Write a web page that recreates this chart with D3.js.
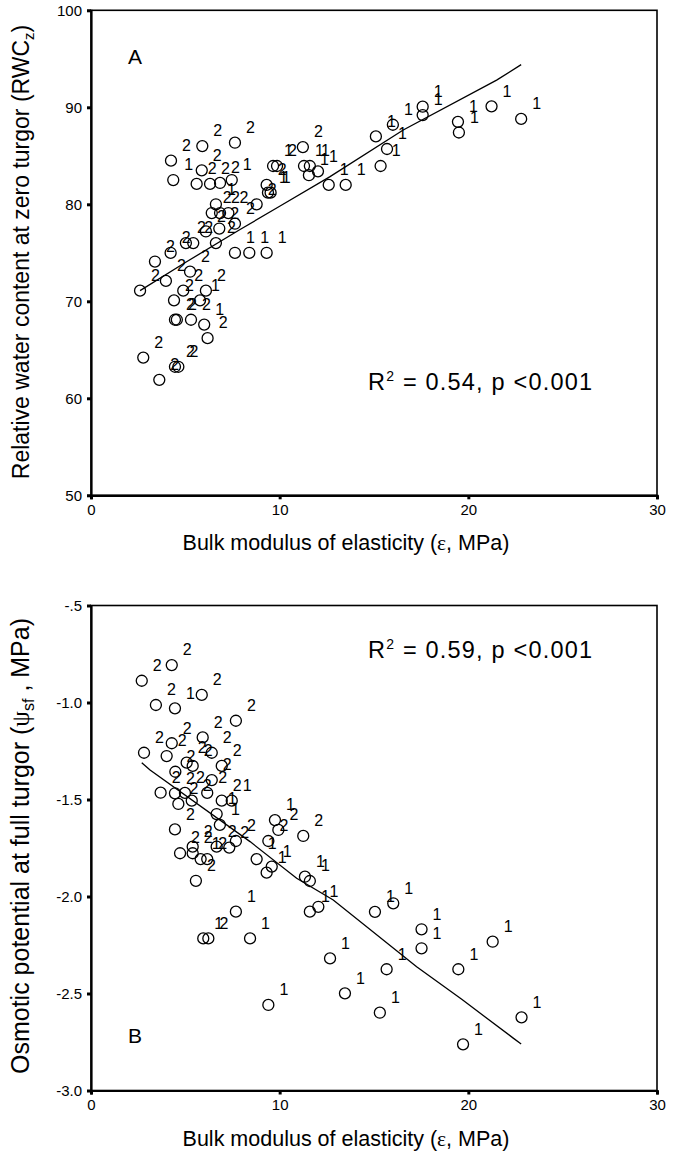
<!DOCTYPE html>
<html><head><meta charset="utf-8">
<script src="https://cdn.jsdelivr.net/npm/d3@7/dist/d3.min.js"></script>
<style>body{margin:0;background:#fff}svg{display:block}</style>
</head><body>
<script>
// ---------- data ----------
const xTicks = [0, 10, 20, 30];
const yTicksA = [50, 60, 70, 80, 90, 100];
const yTicksB = [-3.0, -2.5, -2.0, -1.5, -1.0, -0.5];
const yTickLabelsB = ["-3.0", "-2.5", "-2.0", "-1.5", "-1.0", "-.5"];

// Panel A: bulk modulus vs RWC at zero turgor
const xA = [2.6,3.39,3.97,4.22,5.03,5.42,6.62,5.25,4.89,6.09,4.4,5.78,4.45,4.55,5.3,6.0,6.18,2.77,4.45,4.63,3.62,
  7.63,8.39,9.31,6.09,6.8,7.63,6.4,6.84,7.28,6.62,8.78,4.24,5.9,7.63,4.36,5.87,5.6,6.31,6.84,7.46,9.31,9.38,9.52,
  9.65,9.86,11.23,11.29,11.6,11.55,12.03,12.6,13.5,15.1,15.35,15.69,16.0,17.58,17.58,19.45,19.5,21.23,22.8];
const yA = [71.1,74.1,72.1,75.0,76.0,76.0,76.0,73.05,71.1,71.1,70.1,70.1,68.1,68.1,68.1,67.6,66.2,64.2,63.25,63.25,61.9,
  75.0,75.0,75.0,77.2,77.5,78.0,79.1,79.1,79.1,80.0,80.0,84.5,86.0,86.35,82.5,83.5,82.1,82.1,82.2,82.5,82.0,81.2,81.2,
  83.95,83.95,85.9,83.95,83.95,83.0,83.4,82.0,82.0,87.0,83.95,85.7,88.2,90.06,89.2,88.5,87.4,90.1,88.8];
const grpA = [2,2,2,2,2,2,2,2,2,2,2,1,2,2,2,1,2,2,2,2,2,
  1,1,1,2,2,2,2,2,2,1,2,2,2,2,1,2,2,2,2,1,2,1,1,
  1,2,2,1,1,1,1,1,1,1,1,1,1,1,1,1,1,1,1];
const fitAx = [2.6, 5.0, 7.9, 10.0, 12.67, 16.55, 21.5, 22.8];
const fitAy = [71.1, 74.0, 77.4, 79.8, 82.85, 87.66, 92.8, 94.4];

// Panel B: bulk modulus vs osmotic potential at full turgor
const xB = [2.69,4.28,5.87,3.44,4.45,7.68,2.81,4.01,4.28,5.92,6.4,5.07,5.39,6.93,4.47,6.4,3.69,4.45,4.98,6.16,
  4.63,5.34,6.93,7.46,6.66,6.83,4.45,7.68,5.39,4.72,5.39,6.66,7.33,5.81,6.16,5.56,8.78,9.31,9.58,9.4,
  9.75,9.93,11.25,11.34,11.6,11.6,12.05,7.68,5.95,6.22,8.43,15.05,16.02,17.52,17.52,21.29,19.47,15.67,
  12.67,13.46,9.4,15.31,22.82,19.72];
const yB = [-0.888,-0.807,-0.961,-1.013,-1.03,-1.094,-1.259,-1.276,-1.21,-1.18,-1.259,-1.31,-1.327,-1.327,-1.357,-1.4,
  -1.465,-1.468,-1.466,-1.466,-1.523,-1.506,-1.506,-1.506,-1.575,-1.631,-1.654,-1.714,-1.743,-1.777,-1.777,-1.743,
  -1.748,-1.807,-1.807,-1.919,-1.807,-1.877,-1.846,-1.714,-1.606,-1.657,-1.688,-1.898,-1.92,-2.078,-2.053,-2.078,
  -2.216,-2.216,-2.216,-2.079,-2.035,-2.169,-2.267,-2.233,-2.375,-2.375,-2.319,-2.499,-2.559,-2.599,-2.623,-2.762];
const grpB = [2,2,2,2,1,2,2,2,2,2,2,2,2,2,2,2,2,2,2,2,
  2,2,2,1,1,1,2,2,2,2,2,2,2,1,2,2,1,1,1,2,
  1,2,2,1,1,1,1,1,1,2,1,1,1,1,1,1,1,1,
  1,1,1,1,1,1];
const fitBx = [2.69, 3.13, 8.43, 10.9, 12.84, 17.26, 19.65, 22.38, 22.8];
const fitBy = [-1.31, -1.348, -1.717, -1.906, -2.018, -2.362, -2.53, -2.73, -2.76];

// ---------- drawing ----------
const W = 675, H = 1155;
const svg = d3.select("body").append("svg").attr("width", W).attr("height", H)
  .style("font-family", "'Liberation Sans', Arial, sans-serif");

const plotL = 91, plotR = 657;
const x = d3.scaleLinear().domain([0, 30]).range([plotL, plotR]);

function panel(cfg) {
  const y = d3.scaleLinear().domain(cfg.yDomain).range([cfg.bottom, cfg.top]);
  const g = svg.append("g");

  // frame
  g.append("rect").attr("x", plotL).attr("y", cfg.top)
    .attr("width", plotR - plotL).attr("height", cfg.bottom - cfg.top)
    .attr("fill", "none").attr("stroke", "#000").attr("stroke-width", 1.6);

  // axes
  const ya = d3.axisLeft(y).tickValues(cfg.yTicks).tickSize(4).tickPadding(5)
    .tickFormat((d, i) => cfg.yLabels[i]);
  const yg = g.append("g").attr("transform", `translate(${plotL},0)`).call(ya);
  const xa = d3.axisBottom(x).tickValues(xTicks).tickSize(4).tickPadding(5).tickFormat(d3.format("d"));
  const xg = g.append("g").attr("transform", `translate(0,${cfg.bottom})`).call(xa);
  [yg, xg].forEach(a => {
    a.select(".domain").attr("stroke-width", 2.2);
    a.selectAll(".tick line").attr("stroke-width", 3);
    a.selectAll(".tick text").attr("font-size", 15).attr("fill", "#000")
      .style("font-family", "'Liberation Sans Narrow', 'Liberation Sans', Arial, sans-serif");
  });

  // regression line
  const pts = cfg.fx.map((v, i) => [v, cfg.fy[i]]);
  g.append("path").datum(pts)
    .attr("d", d3.line().x(d => x(d[0])).y(d => y(d[1])))
    .attr("fill", "none").attr("stroke", "#000").attr("stroke-width", 1.3);

  // points
  const data = cfg.xs.map((v, i) => ({x: v, y: cfg.ys[i], g: cfg.gs[i]}));
  g.append("g").selectAll("circle").data(data).join("circle")
    .attr("cx", d => x(d.x)).attr("cy", d => y(d.y)).attr("r", 5.5)
    .attr("fill", "none").attr("stroke", "#000").attr("stroke-width", 1.3);
  g.append("g").selectAll("text").data(data).join("text")
    .attr("x", d => x(d.x) + 15.5).attr("y", d => y(d.y) - 15.5)
    .attr("dy", "0.36em").attr("text-anchor", "middle")
    .attr("font-size", 16).text(d => d.g);

  // panel letter
  g.append("text").attr("x", cfg.letterX).attr("y", cfg.letterY)
    .attr("font-size", 21).text(cfg.letter);

  // R2 text
  const r = g.append("text").attr("x", 368).attr("y", cfg.rY).attr("font-size", 23.5)
    .attr("letter-spacing", 1.2);
  r.append("tspan").text("R");
  r.append("tspan").attr("font-size", 14).attr("dy", -9).text("2");
  r.append("tspan").attr("dy", 9).text(cfg.rText);

  // x title
  const xt = g.append("text").attr("x", 346).attr("y", cfg.bottom + 55)
    .attr("text-anchor", "middle").attr("font-size", 21.5);
  xt.append("tspan").text("Bulk modulus of elasticity (");
  xt.append("tspan").style("font-family", "'Liberation Serif', serif").text("ε");
  xt.append("tspan").text(", MPa)");

  // y title
  const yt = g.append("text")
    .attr("transform", `translate(29,${cfg.yTitleY}) rotate(-90)`)
    .attr("text-anchor", "middle").attr("font-size", cfg.yTitleSize);
  cfg.yTitle(yt);
}

panel({
  yDomain: [50, 100], top: 10.3, bottom: 495.3,
  yTicks: yTicksA, yLabels: yTicksA.map(String),
  xs: xA, ys: yA, gs: grpA, fx: fitAx, fy: fitAy,
  letter: "A", letterX: 128, letterY: 64,
  rY: 390, rText: " = 0.54, p <0.001",
  yTitleY: 252, yTitleSize: 23,
  yTitle: t => {
    t.append("tspan").text("Relative water content at zero turgor (RWC");
    t.append("tspan").attr("font-size", 15).attr("dy", 5).text("z");
    t.append("tspan").attr("dy", -5).text(")");
  }
});

panel({
  yDomain: [-3.0, -0.5], top: 605.5, bottom: 1090.5,
  yTicks: yTicksB, yLabels: yTickLabelsB,
  xs: xB, ys: yB, gs: grpB, fx: fitBx, fy: fitBy,
  letter: "B", letterX: 128, letterY: 1043,
  rY: 658, rText: " = 0.59, p <0.001",
  yTitleY: 846, yTitleSize: 25,
  yTitle: t => {
    t.append("tspan").text("Osmotic potential at full turgor (");
    t.append("tspan").style("font-family", "'Liberation Serif', serif").text("ψ");
    t.append("tspan").attr("font-size", 16).attr("dy", 5).text("sf");
    t.append("tspan").attr("dy", -5).text(" , MPa)");
  }
});
</script>
</body></html>
